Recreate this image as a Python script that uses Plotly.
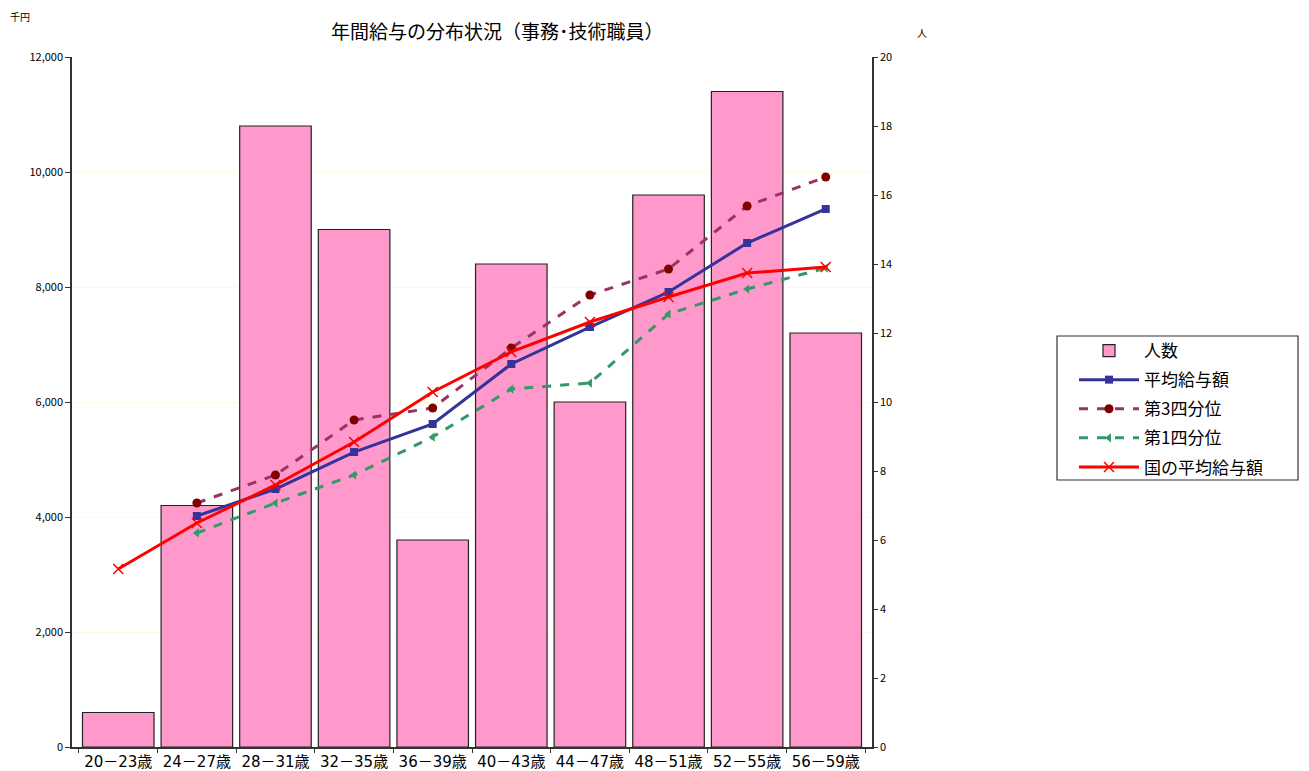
import plotly.graph_objects as go

categories = ["20－23歳", "24－27歳", "28－31歳", "32－35歳", "36－39歳",
              "40－43歳", "44－47歳", "48－51歳", "52－55歳", "56－59歳"]
headcount = [1, 7, 18, 15, 6, 14, 10, 16, 19, 12]
avg_salary = [None, 4017, 4487, 5130, 5617, 6661, 7304, 7913, 8765, 9357]
q3_salary = [None, 4243, 4730, 5687, 5896, 6939, 7861, 8313, 9409, 9913]
q1_salary = [None, 3722, 4243, 4730, 5391, 6226, 6330, 7530, 7965, 8330]
national_avg = [3096, 3896, 4557, 5304, 6174, 6870, 7391, 7826, 8243, 8348]

FONT = "Noto Sans CJK JP"
OFF = 8  # page body margin
W, H = 1301, 763
L, R, T, B = 72 - OFF, 872 - OFF, 57 - OFF, 747 - OFF


def px(x):
    return (x - OFF - L) / (R - L)


def py(y):
    return (B - (y - OFF)) / (B - T)


fig = go.Figure()
fig.add_trace(go.Bar(x=categories, y=headcount, name="人数", yaxis="y", legendgroup="a",
                     marker=dict(color="#FF99CC", line=dict(color="#222222", width=1.2))))
fig.add_trace(go.Scatter(x=categories, y=avg_salary, name="平均給与額", yaxis="y2",
                         mode="lines+markers", legendgroup="b",
                         line=dict(color="#333399", width=3),
                         marker=dict(symbol="square", size=8, color="#333399")))
fig.add_trace(go.Scatter(x=categories, y=q3_salary, name="第3四分位", yaxis="y2",
                         mode="lines+markers", legendgroup="c",
                         line=dict(color="#993366", width=3, dash="dash"),
                         marker=dict(symbol="circle", size=9, color="#800000")))
fig.add_trace(go.Scatter(x=categories, y=q1_salary, name="第1四分位", yaxis="y2",
                         mode="lines+markers", legendgroup="d",
                         line=dict(color="#339966", width=3, dash="dash"),
                         marker=dict(symbol="triangle-left", size=8, color="#339966")))
fig.add_trace(go.Scatter(x=categories, y=national_avg, name="国の平均給与額", yaxis="y2",
                         mode="lines+markers", legendgroup="e",
                         line=dict(color="#FF0000", width=3),
                         marker=dict(symbol="x-thin", size=10, color="#FF0000",
                                     line=dict(color="#FF0000", width=1.5))))

fig.update_layout(
    width=W, height=H,
    margin=dict(l=L, r=W - R, t=T, b=H - B, autoexpand=False),
    paper_bgcolor="white", plot_bgcolor="white",
    font=dict(family=FONT, color="#000000", size=12),
    bargap=0.09,
    showlegend=True,
    legend=dict(x=px(1074), y=py(333), xanchor="left", yanchor="top",
                borderwidth=0, bgcolor="rgba(0,0,0,0)",
                font=dict(family=FONT, size=17), itemwidth=60,
                traceorder="grouped", tracegroupgap=4),
    xaxis=dict(showline=True, linecolor="#333333", linewidth=1.5, ticks="outside",
               tickson="boundaries", ticklen=4, tickcolor="#333333",
               tickfont=dict(family="DejaVu Sans, " + FONT, size=15), automargin=False,
               showgrid=False),
    yaxis=dict(side="right", range=[0, 20], dtick=2, showline=True, linecolor="#333333",
               linewidth=1.5, ticks="outside", ticklen=4, tickcolor="#333333",
               showgrid=False, zeroline=False, tickfont=dict(size=11), automargin=False),
    yaxis2=dict(side="left", overlaying="y", range=[0, 12000], dtick=2000,
                tickformat=",d", showline=True, linecolor="#333333", linewidth=1.5,
                ticks="outside", ticklen=5, tickcolor="#333333",
                showgrid=True, gridcolor="#FFFBE0", gridwidth=1, zeroline=False,
                tickfont=dict(size=11), automargin=False),
    shapes=[dict(type="rect", xref="paper", yref="paper",
                 x0=px(1057), x1=px(1298), y0=py(336), y1=py(480),
                 line=dict(color="#333333", width=1.2), fillcolor="rgba(0,0,0,0)")],
    annotations=[
        dict(text="年間給与の分布状況（事務･技術職員）", x=px(497), y=py(30)),
        dict(text="千円", x=px(20), y=py(17), font=dict(family=FONT, size=10)),
        dict(text="人", x=px(922), y=py(33), font=dict(family=FONT, size=10)),
    ],
)
fig.update_annotations(xref="paper", yref="paper", showarrow=False,
                       xanchor="center", yanchor="middle")
fig.layout.annotations[0].font = dict(family=FONT, size=19)

fig.write_html("out.html")
